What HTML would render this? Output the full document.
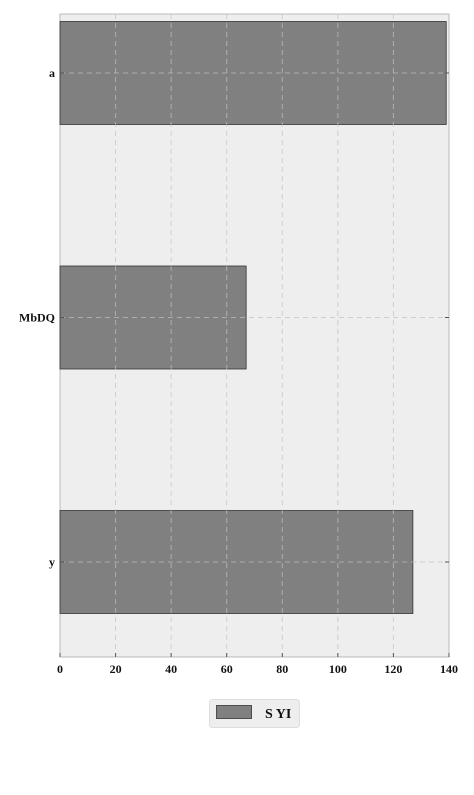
<!DOCTYPE html>
<html><head><meta charset="utf-8"><style>
body{margin:0;background:#fff;width:474px;height:790px;overflow:hidden}
text{font-family:"Liberation Serif",serif;font-weight:bold;font-size:12px;fill:#111}
</style></head><body>
<svg id="chart" width="474" height="790" xmlns="http://www.w3.org/2000/svg"></svg>
<script>
const categories = ["a", "MbDQ", "y"];
const values = [139, 67, 127];
const xTicks = [0, 20, 40, 60, 80, 100, 120, 140];
const seriesName = "S YI";

const NS = "http://www.w3.org/2000/svg";
const svg = document.getElementById("chart");
const L = 60, R = 449, T = 14, B = 657;
const xMax = 140;
const xs = v => L + (v / xMax) * (R - L);
const step = 244.5;
const catPos = i => T + 59 + i * step;
const barH = 103;
function mk(tag, attrs, parent) {
  const e = document.createElementNS(NS, tag);
  for (const k in attrs) e.setAttribute(k, attrs[k]);
  (parent || svg).appendChild(e);
  return e;
}
const bg = mk("rect", {x: L, y: T, width: R - L, height: B - T, fill: "#eeeeee", stroke: "#bbbbbb"});


// bars
categories.forEach((c, i) => {
  const y = catPos(i);
  const b = mk("rect", {x: xs(0), y: y - barH / 2, width: xs(values[i]) - xs(0), height: barH, fill: "#808080", stroke: "#333", "stroke-width": 0.8});
  
  
});
// grid (drawn over bars)
xTicks.forEach(t => {
  if (t === 0 || t === xMax) return;
  const g = mk("line", {x1: xs(t), x2: xs(t), y1: T, y2: B, stroke: "#c0c0c0", "stroke-dasharray": "5,4", "stroke-opacity": 0.7});
  
  
});
categories.forEach((c, i) => {
  const y = catPos(i);
  const g = mk("line", {x1: L, x2: R, y1: y, y2: y, stroke: "#c0c0c0", "stroke-dasharray": "5,4", "stroke-opacity": 0.7});
  
  
  const tk = mk("line", {x1: L, x2: L + 4, y1: y, y2: y, stroke: "#555"});
  
  
  const tk2 = mk("line", {x1: R, x2: R - 4, y1: y, y2: y, stroke: "#555"});
  
  
  const lb = mk("text", {x: L - 5, y: y + 4, "text-anchor": "end"});
  lb.textContent = c;
  
  
});
// x ticks
xTicks.forEach(t => {
  const tk = mk("line", {x1: xs(t), x2: xs(t), y1: B, y2: B - 4, stroke: "#555"});
  
  
  const lb = mk("text", {x: xs(t), y: B + 16, "text-anchor": "middle"});
  lb.textContent = t;
  
  
});
// legend
const lg = mk("g", {});


mk("rect", {x: 209.5, y: 699.5, width: 90, height: 28, rx: 3, fill: "#eeeeee", stroke: "#dddddd"}, lg);
const sw = mk("rect", {x: 216.5, y: 705.5, width: 35, height: 13, fill: "#808080", stroke: "#333", "stroke-width": 0.8}, lg);


const lt = mk("text", {x: 265, y: 718, style: "font-size:14px"}, lg);
lt.textContent = seriesName;


</script>
</body></html>
